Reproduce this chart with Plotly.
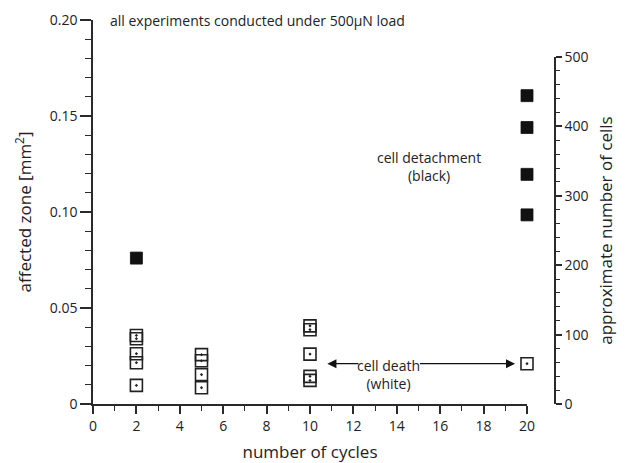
import plotly.graph_objects as go

# ---- data ----
cycles_open = [2, 2, 2, 2, 2, 5, 5, 5, 5, 10, 10, 10, 10, 10, 20]
zone_open = [0.0357, 0.0340, 0.0262, 0.0215, 0.0097,
             0.0257, 0.0225, 0.0153, 0.0085,
             0.0407, 0.0387, 0.0260, 0.0144, 0.0123,
             0.0210]
cycles_filled = [2, 20, 20, 20, 20]
zone_filled = [0.076, 0.1606, 0.1440, 0.1196, 0.0985]

x_ticks = list(range(0, 21, 2))
y_ticks = [0, 0.05, 0.10, 0.15, 0.20]
y_ticktext = ["0", "0.05", "0.10", "0.15", "0.20"]
y2_ticks = [0, 100, 200, 300, 400, 500]

FONT = "Open Sans"
AX = "#2a2a2a"
ARROW_Y = 0.0210

fig = go.Figure()
# invisible trace to realise the right-hand axis (drawn first, underneath)
fig.add_trace(go.Scatter(x=[0], y=[0], yaxis="y2", mode="markers",
                         marker=dict(opacity=0), hoverinfo="skip",
                         showlegend=False))
fig.add_trace(go.Scatter(
    x=cycles_open, y=zone_open, mode="markers", cliponaxis=False,
    marker=dict(symbol="square-open-dot", size=12, color="#222",
                line=dict(width=1.6, color="#222")),
    showlegend=False))
fig.add_trace(go.Scatter(
    x=cycles_filled, y=zone_filled, mode="markers", cliponaxis=False,
    marker=dict(symbol="square", size=12, color="#111",
                line=dict(width=0.8, color="#111")),
    showlegend=False))

# the page body has an 8px default margin, so the figure is 8px smaller
fig.update_layout(
    width=622, height=455,
    margin=dict(l=85, r=75, t=12, b=59, autoexpand=False),
    paper_bgcolor="white", plot_bgcolor="rgba(0,0,0,0)",
    font=dict(family=FONT, size=14, color="#222"),
    xaxis=dict(domain=[0, 0.9394], range=[0, 20], tickvals=x_ticks,
               showline=True, linecolor=AX, linewidth=1.5,
               ticks="outside", ticklen=8, tickwidth=1.5, tickcolor=AX,
               minor=dict(dtick=1, ticks="outside", ticklen=5,
                          tickwidth=1.2, tickcolor=AX),
               showgrid=False, zeroline=False, anchor="y", automargin=False,
               title=dict(text="number of cycles", standoff=14)),
    yaxis=dict(domain=[0, 1], range=[0, 0.2], tickvals=y_ticks,
               ticktext=y_ticktext, automargin=False,
               showline=True, linecolor=AX, linewidth=1.5,
               ticks="outside", ticklen=11, tickwidth=1.5, tickcolor=AX,
               minor=dict(dtick=0.01, ticks="outside", ticklen=6,
                          tickwidth=1.2, tickcolor=AX),
               showgrid=False, zeroline=False,
               title=dict(text="affected zone [mm<sup>2</sup>]", standoff=14)),
    yaxis2=dict(domain=[0, 0.9035], range=[0, 500], tickvals=y2_ticks,
                anchor="free", position=1, side="right", automargin=False,
                showline=True, linecolor=AX, linewidth=1.5,
                ticks="outside", ticklen=6, tickwidth=1.5, tickcolor=AX,
                minor=dict(dtick=20, ticks="outside", ticklen=4,
                           tickwidth=1.2, tickcolor=AX),
                showgrid=False, zeroline=False,
                title=dict(text="approximate number of cells", standoff=12)),
)

fig.add_annotation(text="all experiments conducted under 500µN load",
                   xref="paper", yref="paper", x=0.033, y=1.0,
                   xanchor="left", yanchor="middle", showarrow=False)
fig.add_annotation(text="cell detachment<br>(black)", x=15.5, y=0.1235,
                   xref="x", yref="y", showarrow=False, align="center")
fig.add_annotation(text="cell death<br>(white)", x=13.6, y=ARROW_Y,
                   yanchor="top", yshift=10, showarrow=False, align="center")
# arrows
fig.add_annotation(x=10.8, y=ARROW_Y, ax=12.3, ay=ARROW_Y, axref="x", ayref="y",
                   xref="x", yref="y", text="", showarrow=True,
                   arrowhead=2, arrowsize=1.4, arrowwidth=1.3, arrowcolor="#111")
fig.add_annotation(x=19.45, y=ARROW_Y, ax=15.0, ay=ARROW_Y, axref="x", ayref="y",
                   xref="x", yref="y", text="", showarrow=True,
                   arrowhead=2, arrowsize=1.4, arrowwidth=1.3, arrowcolor="#111")

fig.write_html("out.html")
